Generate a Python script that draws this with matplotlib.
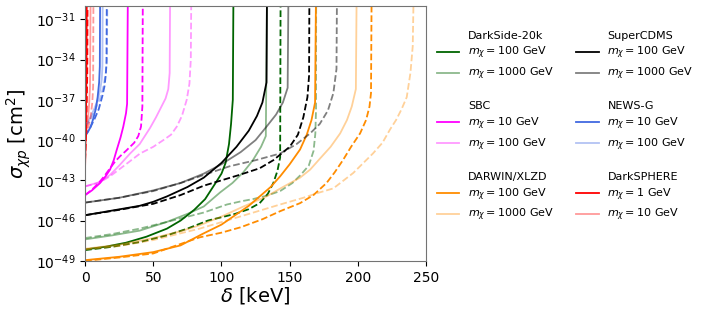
import matplotlib.pyplot as plt
import numpy as np
from matplotlib.lines import Line2D

# delta [keV] and log10(sigma [cm^2])
# DarkSide-20k
ds100_d = [0, 15, 30, 45, 60, 70, 80, 88, 95, 100, 103, 105.5, 107, 108.3, 108.7]
ds100_s = [-48.15, -47.95, -47.65, -47.2, -46.6, -46.0, -45.2, -44.4, -43.3, -42.5, -41.7, -40.3, -38.8, -37.0, -30]
ds100_dd = [0, 20, 40, 60, 75, 90, 100, 110, 120, 128, 134, 138, 141, 143, 143.3]
ds100_ds = [-48.2, -47.95, -47.6, -47.1, -46.6, -46.0, -45.75, -45.5, -45.15, -44.7, -44.0, -43.2, -42.3, -41.3, -30]
ds1000_d = [0, 20, 40, 60, 75, 87, 99, 108, 116, 123, 129, 132.5, 133.3]
ds1000_s = [-47.4, -47.1, -46.75, -46.1, -45.5, -44.95, -43.9, -43.2, -42.4, -41.5, -40.5, -39.7, -30]
ds1000_dd = [0, 20, 40, 60, 87, 104, 115, 123, 133, 143, 152, 158, 164, 167.5, 168.8, 169.3, 169.4]
ds1000_ds = [-47.3, -47.0, -46.6, -46.1, -45.4, -44.8, -44.55, -44.4, -44.15, -43.8, -43.2, -42.6, -41.9, -40.8, -39.5, -37.7, -30]

# SuperCDMS
cd100_d = [0, 20, 40, 50, 60, 75, 87, 100, 111, 120, 126, 130, 133, 133.3]
cd100_s = [-45.6, -45.25, -44.9, -44.6, -44.2, -43.5, -42.8, -41.7, -40.5, -39.3, -38.2, -37.2, -35.7, -30]
cd100_dd = [0, 25, 50, 70, 87, 100, 113, 128, 138, 150, 156, 160, 163, 164.2, 164.4]
cd100_ds = [-45.6, -45.2, -44.75, -44.1, -43.4, -43.0, -42.6, -42.1, -41.5, -40.5, -39.6, -38.3, -36.8, -35.2, -30]
cd1000_d = [0, 25, 50, 70, 87, 100, 114, 125, 133, 140, 145, 148.5, 149]
cd1000_s = [-44.66, -44.3, -43.75, -43.2, -42.5, -41.8, -40.9, -40.0, -39.0, -38.1, -37.2, -36.1, -30]
cd1000_dd = [0, 25, 50, 70, 87, 106, 125, 143, 155, 165, 172, 178, 182, 184.3, 184.6]
cd1000_ds = [-44.66, -44.3, -43.8, -43.2, -42.6, -41.95, -41.5, -41.0, -40.3, -39.5, -38.8, -37.8, -36.5, -34.7, -30]

# SBC
sbc10_d = [0, 5, 11, 15, 18.3, 21, 23, 26, 28, 30, 30.8, 31.3]
sbc10_s = [-44.1, -43.75, -43.2, -42.7, -42.2, -41.5, -40.8, -39.8, -39.0, -38.0, -37.3, -30]
sbc10_dd = [0, 5, 10, 14, 18.3, 22, 25.7, 30, 33, 36, 39, 41, 42, 42.3]
sbc10_ds = [-44.1, -43.7, -43.2, -42.7, -42.1, -41.6, -41.2, -40.8, -40.5, -40.2, -39.7, -39.0, -37.5, -30]
sbc100_d = [0, 5, 10, 18.3, 25, 33, 40, 47.6, 52, 56, 59, 61, 62, 62.3]
sbc100_s = [-43.45, -43.3, -43.15, -42.6, -41.9, -41.0, -40.3, -39.1, -38.3, -37.5, -36.9, -36.2, -35.0, -30]
sbc100_dd = [0, 10, 18.3, 30, 40.3, 50, 57.4, 63, 67.2, 71, 74.5, 76.5, 77.5, 77.8]
sbc100_ds = [-43.45, -43.2, -42.7, -41.8, -41.0, -40.5, -40.0, -39.6, -39.0, -38.2, -37.0, -35.8, -34.0, -30]

# NEWS-G
ng10_d = [0, 2, 4.2, 6, 7.8, 9.2, 10.3, 10.8, 11]
ng10_s = [-39.7, -39.4, -39.0, -38.4, -37.7, -36.8, -35.7, -34.5, -30]
ng10_dd = [0, 3, 6.6, 10, 12.7, 14.2, 15.1, 15.7, 15.9]
ng10_ds = [-39.7, -39.2, -38.5, -37.7, -36.7, -36.0, -35.2, -34.3, -30]
ng100_d = [0, 3, 6.6, 9, 11, 12.2, 12.7, 12.9]
ng100_s = [-39.0, -38.5, -37.7, -37.1, -36.3, -35.5, -34.5, -30]
ng100_dd = [0, 4, 8, 11, 13.5, 15.2, 16, 16.3]
ng100_ds = [-39.0, -38.5, -37.6, -36.9, -36.0, -35.0, -34.0, -30]

# DARWIN/XLZD
dw100_d = [0, 25, 50, 70, 86, 100, 110, 120, 128, 136, 143, 150, 157.6, 162.5, 166, 168.6, 169.2]
dw100_s = [-48.95, -48.7, -48.35, -47.85, -47.0, -46.3, -45.6, -44.9, -44.2, -43.5, -42.7, -41.8, -40.7, -39.6, -38.5, -37.2, -30]
dw100_dd = [0, 25, 50, 84, 100, 114, 130, 143, 157.6, 167.4, 177, 183, 189, 195, 201.6, 206, 208.5, 209.6, 210]
dw100_ds = [-49.0, -48.75, -48.45, -47.25, -46.9, -46.5, -45.9, -45.3, -44.7, -44.1, -43.2, -42.4, -41.5, -40.5, -39.5, -38.5, -37.5, -36.5, -30]
dw1000_d = [0, 25, 50, 70, 84, 100, 115, 133, 145, 157.6, 165, 172, 180, 187, 192, 195.5, 198.5, 199]
dw1000_s = [-48.1, -47.8, -47.3, -46.8, -46.35, -45.7, -45.0, -44.2, -43.5, -42.8, -42.2, -41.4, -40.5, -39.5, -38.5, -37.5, -36.2, -30]
dw1000_dd = [0, 25, 50, 84, 113.6, 143, 160, 172, 182, 196.6, 211, 218, 223.6, 228, 232, 235.8, 238.5, 240.2, 240.7]
dw1000_ds = [-48.15, -47.9, -47.45, -46.6, -45.7, -44.8, -44.3, -43.9, -43.6, -42.45, -41.0, -40.2, -39.2, -38.5, -37.7, -36.8, -35.0, -33.0, -30]

# DarkSPHERE
sp1_d = [0, 0.3, 0.7, 1.0, 1.2]
sp1_s = [-42.0, -40.5, -38.0, -35.0, -30]
sp1_dd = [0, 0.6, 1.2, 1.6, 1.8]
sp1_ds = [-41.5, -40.0, -37.5, -35.0, -30]
sp10_d = [0, 1, 2, 3, 3.6, 4.0]
sp10_s = [-39.8, -39.3, -38.5, -37.3, -36.0, -30]
sp10_dd = [0, 2, 4, 5.3, 5.9, 6.1]
sp10_ds = [-39.8, -39.2, -38.3, -37.2, -36.0, -30]

experiments = [
    ("DarkSide-20k", "darkgreen", 0.45, ["100", "1000"],
     [(ds100_d, ds100_s, ds100_dd, ds100_ds), (ds1000_d, ds1000_s, ds1000_dd, ds1000_ds)]),
    ("SBC", "magenta", 0.4, ["10", "100"],
     [(sbc10_d, sbc10_s, sbc10_dd, sbc10_ds), (sbc100_d, sbc100_s, sbc100_dd, sbc100_ds)]),
    ("DARWIN/XLZD", "darkorange", 0.4, ["100", "1000"],
     [(dw100_d, dw100_s, dw100_dd, dw100_ds), (dw1000_d, dw1000_s, dw1000_dd, dw1000_ds)]),
    ("SuperCDMS", "black", 0.5, ["100", "1000"],
     [(cd100_d, cd100_s, cd100_dd, cd100_ds), (cd1000_d, cd1000_s, cd1000_dd, cd1000_ds)]),
    ("NEWS-G", "royalblue", 0.4, ["10", "100"],
     [(ng10_d, ng10_s, ng10_dd, ng10_ds), (ng100_d, ng100_s, ng100_dd, ng100_ds)]),
    ("DarkSPHERE", "red", 0.4, ["1", "10"],
     [(sp1_d, sp1_s, sp1_dd, sp1_ds), (sp10_d, sp10_s, sp10_dd, sp10_ds)]),
]

fig = plt.figure(figsize=(7.09, 3.12), dpi=100)
ax = fig.add_axes([0.12, 0.164, 0.481, 0.817])

handles = []
labels = []
blank = Line2D([], [], color="none")
for i, (name, col, alpha, masses, curves) in enumerate(experiments):
    if i % 3 != 0:
        handles.append(blank)
        labels.append("")
    handles.append(blank)
    labels.append(name)
    for j, (d, s, dd, ds) in enumerate(curves):
        a = 1.0 if j == 0 else alpha
        ax.plot(d, 10.0 ** np.array(s), color=col, alpha=a, lw=1.3)
        ax.plot(dd, 10.0 ** np.array(ds), color=col, alpha=a, lw=1.3, ls="--")
        handles.append(Line2D([], [], color=col, alpha=a, lw=1.3))
        labels.append(r"$m_\chi = $" + masses[j] + " GeV")

ax.set_yscale("log")
ax.set_xlim(0, 250)
ax.set_ylim(1e-49, 1e-30)
ax.set_yticks([10.0 ** k for k in range(-49, -30, 3)])
ax.tick_params(labelsize=10)
ax.set_xlabel(r"$\delta$ [keV]", fontsize=14, labelpad=0)
ax.set_ylabel(r"$\sigma_{\chi p}$ [cm$^2$]", fontsize=14, labelpad=2)
for sp in ax.spines.values():
    sp.set_color("0.45")

fig.legend(handles, labels, ncol=2, loc="upper left", bbox_to_anchor=(0.602, 0.934),
           frameon=False, fontsize=8, handlelength=2.0, labelspacing=0.4)

fig.savefig("out.png", dpi=100)
